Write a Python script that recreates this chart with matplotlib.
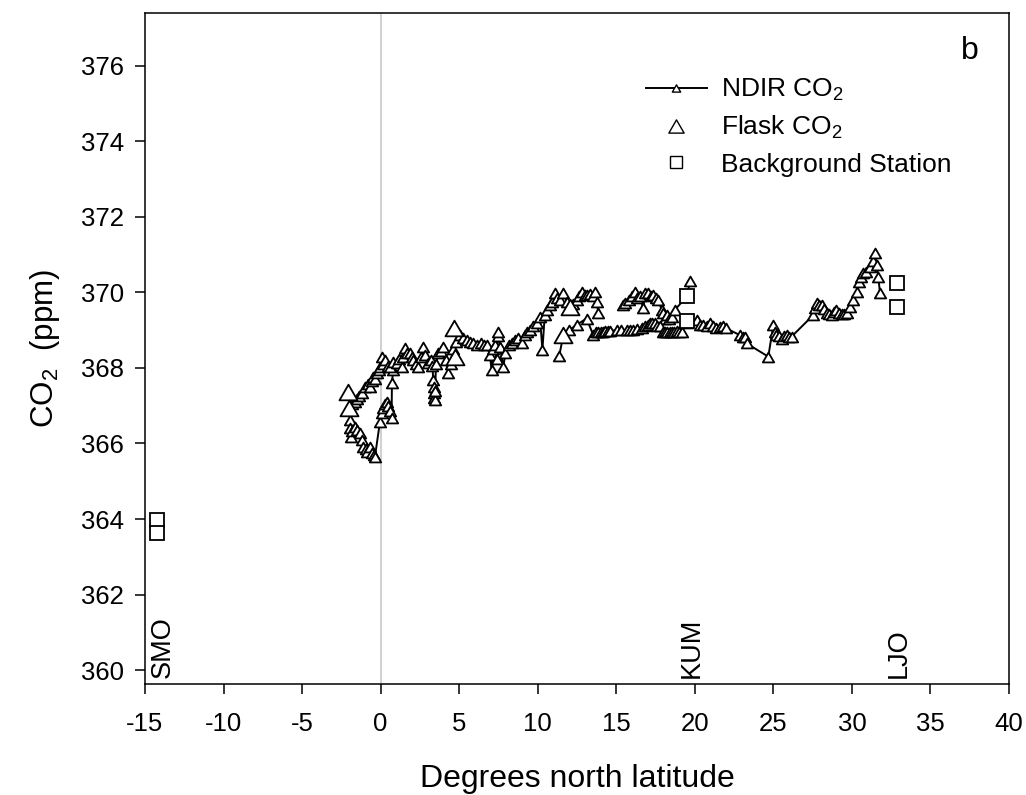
import matplotlib
matplotlib.use("Agg")
import matplotlib.pyplot as plt
from matplotlib.lines import Line2D
from matplotlib.path import Path

plt.rcParams["font.family"] = ["Liberation Sans", "DejaVu Sans"]
plt.rcParams["mathtext.fontset"] = "custom"
plt.rcParams["mathtext.rm"] = "Liberation Sans"
plt.rcParams["mathtext.default"] = "regular"
plt.rcParams["axes.unicode_minus"] = False

# NDIR underway record, split into the separate passes of the track
leg_a_lat = [-1.95, -1.92, -1.90, -1.80, -1.63, -1.50, -1.31, -1.20, -1.10, -0.95,
             -0.88, -0.67, -0.57, -0.45, -0.36, -0.04, 0.07, 0.17, 0.25, 0.38,
             0.50, 0.62, 0.70, 0.72, 0.80]
leg_a_co2 = [366.62, 366.40, 366.18, 366.32, 366.45, 366.35, 366.27, 366.09, 365.92, 365.85,
             365.78, 365.92, 365.74, 365.70, 365.65, 366.58, 366.80, 366.93, 367.05, 367.11,
             367.00, 366.85, 366.67, 367.60, 367.95]

leg_b_lat = [-1.85, -1.63, -1.50, -1.35, -1.20, -0.99, -0.80, -0.67, -0.55, -0.47,
             -0.35, -0.25, -0.10, -0.04, 0.07, 0.15, 0.30, 0.45, 0.60, 0.80,
             1.02, 1.20, 1.34, 1.45, 1.55, 1.70, 1.87, 2.00, 2.08, 2.25,
             2.40, 2.55, 2.72, 2.85, 3.03, 3.20, 3.30, 3.35, 3.38, 3.40,
             3.42, 3.45, 3.48, 3.52, 3.67, 3.85, 3.99, 4.15, 4.30, 4.45,
             4.60, 4.80, 5.05, 5.25, 5.47, 5.70, 5.90, 6.15, 6.42, 6.60,
             6.75, 6.96, 7.06, 7.15, 7.30, 7.38, 7.45, 7.49, 7.60, 7.81,
             7.95, 8.15, 8.34, 8.55, 8.75, 8.97, 9.19, 9.35, 9.50, 9.70,
             9.93, 10.14, 10.30, 10.45, 10.57, 10.78, 10.90, 11.10, 11.25, 11.42,
             11.63, 11.85, 12.05, 12.25, 12.48, 12.65, 12.80, 13.00, 13.11, 13.30,
             13.50, 13.64, 13.75, 13.86]
leg_b_co2 = [367.05, 367.11, 367.18, 367.25, 367.33, 367.50, 367.58, 367.50, 367.65, 367.77,
             367.70, 367.86, 367.95, 368.03, 368.30, 368.10, 368.20, 368.05, 368.03, 368.15,
             368.12, 368.25, 368.03, 368.30, 368.52, 368.40, 368.39, 368.30, 368.21, 368.10,
             368.03, 368.30, 368.56, 368.35, 368.12, 368.20, 368.05, 367.68, 367.50, 367.35,
             367.20, 367.15, 367.40, 368.10, 368.39, 368.45, 368.56, 368.20, 367.86, 368.10,
             368.50, 368.70, 368.87, 368.80, 368.74, 368.70, 368.65, 368.60, 368.65, 368.62,
             368.61, 368.34, 367.95, 368.50, 368.60, 368.25, 368.85, 368.96, 368.55, 368.03,
             368.40, 368.60, 368.65, 368.75, 368.80, 368.65, 368.87, 368.95, 369.00, 369.10,
             369.18, 369.36, 368.48, 369.40, 369.54, 369.67, 369.75, 369.98, 369.85, 369.80,
             369.98, 369.75, 369.60, 369.70, 369.80, 369.90, 370.02, 369.93, 369.93, 369.95,
             369.90, 370.02, 369.76, 369.45]

leg_c_lat = [15.45, 15.55, 15.80, 16.00, 16.19, 16.35, 16.50, 16.72, 16.83, 17.04,
             17.20, 17.36, 17.50, 17.68, 17.89, 17.99, 18.10, 18.20, 18.35, 18.52,
             18.74, 19.52, 19.69]
leg_c_co2 = [369.67, 369.71, 369.80, 369.90, 370.00, 369.85, 369.90, 369.58, 369.98, 369.98,
             369.90, 369.93, 369.85, 369.80, 369.54, 369.45, 369.31, 369.40, 369.30, 369.36,
             369.54, 369.91, 370.31]

leg_d_lat = [11.37, 11.63, 12.00, 12.50, 13.11, 13.54, 13.70, 13.85, 14.00, 14.15,
             14.30, 14.45, 14.60, 15.02, 15.30, 15.66, 15.90, 16.08, 16.35, 16.61,
             16.80, 17.04, 17.15, 17.30, 17.46, 17.60, 17.78, 17.99, 18.10, 18.25,
             18.40, 18.55, 18.70, 18.85, 19.00, 19.16, 19.50, 20.12, 20.33, 20.54,
             20.75, 20.96, 21.15, 21.38, 21.60, 21.81, 22.00, 22.87, 23.05, 23.19,
             23.30, 24.68, 25.00, 25.10, 25.20, 25.35, 25.52, 25.70, 25.84, 26.00,
             26.16, 27.54, 27.65, 27.75, 27.90, 28.07, 28.20, 28.39, 28.55, 28.71,
             28.85, 29.02, 29.20, 29.35, 29.50, 29.66, 29.88, 30.09, 30.30, 30.47,
             30.60, 30.72, 30.90, 31.15, 31.37, 31.45, 31.58, 31.68, 31.79]
leg_d_co2 = [368.32, 368.87, 369.00, 369.15, 369.31, 368.87, 368.96, 368.96, 368.96, 368.96,
             368.97, 368.97, 368.98, 369.00, 369.00, 369.00, 369.00, 369.00, 369.02, 369.05,
             369.10, 369.14, 369.18, 369.20, 369.18, 369.12, 369.10, 368.96, 368.96, 368.95,
             368.96, 368.95, 368.96, 368.97, 368.96, 368.96, 369.20, 369.27, 369.14, 369.14,
             369.12, 369.18, 369.10, 369.05, 369.08, 369.10, 369.05, 368.87, 368.82, 368.83,
             368.65, 368.30, 369.14, 368.95, 368.87, 368.85, 368.78, 368.85, 368.87, 368.82,
             368.83, 369.40, 369.60, 369.71, 369.68, 369.67, 369.55, 369.45, 369.42, 369.40,
             369.48, 369.54, 369.45, 369.42, 369.43, 369.45, 369.62, 369.80, 370.02, 370.29,
             370.40, 370.51, 370.55, 370.68, 370.82, 371.05, 370.73, 370.42, 369.98]

# discrete flask samples
flask_lat = [-2.06, -2.00, 4.67, 4.73, 11.63, 12.05]
flask_co2 = [367.37, 366.93, 369.05, 368.30, 368.87, 369.62]

# background stations (SMO, KUM, LJO)
station_lat = [-14.26, -14.26, 19.53, 19.53, 32.85, 32.85]
station_co2 = [363.97, 363.63, 369.91, 369.24, 370.26, 369.61]
station_names = ["SMO", "KUM", "LJO"]
station_label_lat = [-13.9, 19.8, 33.0]

# equilateral triangle marker
tri = Path([(-1, -0.866), (1, -0.866), (0, 0.866), (-1, -0.866)],
           [Path.MOVETO, Path.LINETO, Path.LINETO, Path.CLOSEPOLY])

fig = plt.figure(figsize=(10.26, 7.95), dpi=100)
ax = fig.add_axes([0.1413, 0.1396, 0.8421, 0.844])

ax.axvline(0, color="#c8c8c8", lw=1.2, zorder=1)

for lat, co2 in [(leg_a_lat, leg_a_co2), (leg_b_lat, leg_b_co2),
                 (leg_c_lat, leg_c_co2), (leg_d_lat, leg_d_co2)]:
    ax.plot(lat, co2, color="k", lw=1.4, marker=tri, ms=8.2, mfc="white",
            mec="k", mew=1.3, zorder=3)

ax.plot(flask_lat, flask_co2, ls="none", marker=tri, ms=13, mfc="white",
        mec="k", mew=1.3, zorder=4)
ax.plot(station_lat, station_co2, ls="none", marker="s", ms=10.5, mfc="white",
        mec="k", mew=1.3, zorder=4)

for name, lat in zip(station_names, station_label_lat):
    ax.text(lat, 359.8, name, rotation=90, ha="center", va="bottom", fontsize=19.5)

ax.text(0.955, 0.943, "b", transform=ax.transAxes, ha="center", va="center",
        fontsize=23)

ax.set_xlim(-15, 40)
ax.set_ylim(359.63, 377.4)
ax.set_xticks(range(-15, 41, 5))
ax.set_yticks(range(360, 377, 2))
ax.tick_params(direction="out", length=7, width=1.1, labelsize=18.5, pad=8,
               top=False, right=False)
ax.tick_params(axis="x", pad=13)
for s in ax.spines.values():
    s.set_linewidth(1.1)

ax.set_xlabel("Degrees north latitude", fontsize=23, labelpad=20)
ax.set_ylabel("CO$_2$  (ppm)", fontsize=22.5, labelpad=14)

handles = [
    Line2D([], [], color="k", lw=1.4, marker=tri, ms=6, mfc="white", mec="k"),
    Line2D([], [], ls="none", marker=tri, ms=11, mfc="white", mec="k"),
    Line2D([], [], ls="none", marker="s", ms=8, mfc="white", mec="k"),
]
labels = ["NDIR CO$_2$", "Flask CO$_2$", "Background Station"]
ax.legend(handles, labels, loc="upper left", bbox_to_anchor=(646 / 1026, 1 - 77 / 795),
          bbox_transform=fig.transFigure, frameon=False, fontsize=19,
          handlelength=2.3, handletextpad=0.55, labelspacing=0.42,
          borderpad=0, borderaxespad=0, numpoints=1)

fig.savefig("out.png", dpi=100)
